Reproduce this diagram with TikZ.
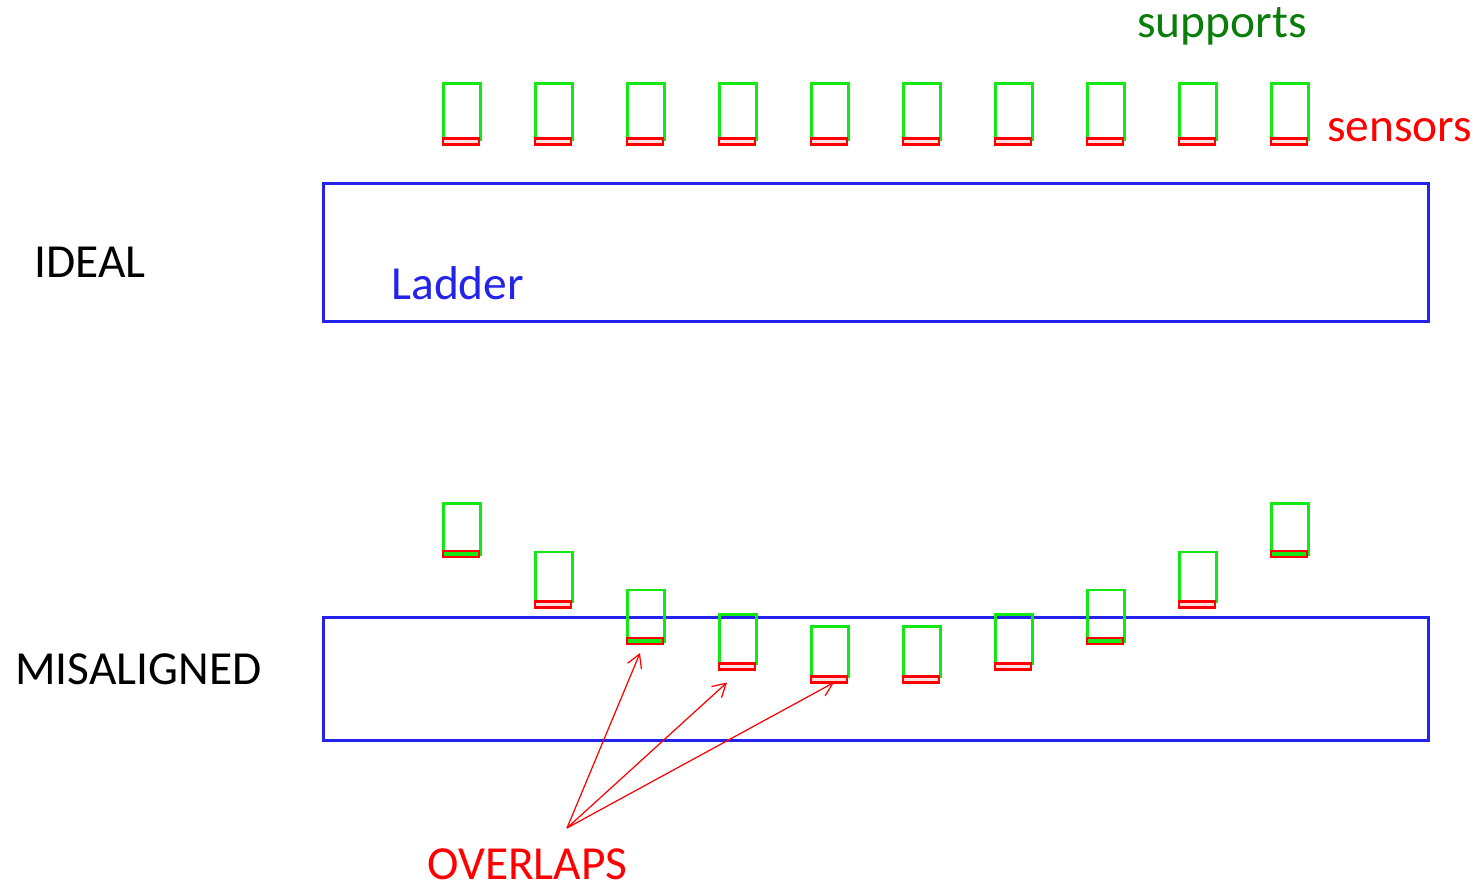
\documentclass[tikz,border=0pt]{standalone}
\usepackage{fontspec}
\setmainfont{Carlito}
\usetikzlibrary{arrows.meta}
\definecolor{suppgreen}{RGB}{20,232,20}
\definecolor{textgreen}{RGB}{10,125,10}
\definecolor{ladderblue}{RGB}{35,35,235}
\begin{document}
\begin{tikzpicture}[x=0.02cm, y=-0.02cm,
    support/.style = {draw=suppgreen, line width=1.5pt, anchor=north, inner sep=0, outer sep=0, minimum width=0.74cm},
    sensor/.style  = {draw=red, line width=1.4pt, fill=red!12, anchor=north, inner sep=0, outer sep=0, minimum width=0.72cm, minimum height=0.12cm},
    ladder/.style  = {draw=ladderblue, line width=1.7pt, inner sep=0, outer sep=0, minimum width=22.12cm},
    label/.style   = {anchor=base west, inner sep=0, font=\fontsize{27}{32}\selectfont}]
    \useasboundingbox (0,0) rectangle (1477,888);

    % ideal ladder
    \node[ladder, minimum height=2.78cm] (L1) at (876,252.5) {};
    \node[support, minimum height=1.13cm] (s1)  at (462,83.5)  {};
    \node[support, minimum height=1.13cm] (s2)  at (554,83.5)  {};
    \node[support, minimum height=1.13cm] (s3)  at (646,83.5)  {};
    \node[support, minimum height=1.13cm] (s4)  at (738,83.5)  {};
    \node[support, minimum height=1.13cm] (s5)  at (830,83.5)  {};
    \node[support, minimum height=1.13cm] (s6)  at (922,83.5)  {};
    \node[support, minimum height=1.13cm] (s7)  at (1014,83.5) {};
    \node[support, minimum height=1.13cm] (s8)  at (1106,83.5) {};
    \node[support, minimum height=1.13cm] (s9)  at (1198,83.5) {};
    \node[support, minimum height=1.13cm] (s10) at (1290,83.5) {};
    \node[sensor] (d1)  at (461,138.5)  {};
    \node[sensor] (d2)  at (553,138.5)  {};
    \node[sensor] (d3)  at (645,138.5)  {};
    \node[sensor] (d4)  at (737,138.5)  {};
    \node[sensor] (d5)  at (829,138.5)  {};
    \node[sensor] (d6)  at (921,138.5)  {};
    \node[sensor] (d7)  at (1013,138.5) {};
    \node[sensor] (d8)  at (1105,138.5) {};
    \node[sensor] (d9)  at (1197,138.5) {};
    \node[sensor] (d10) at (1289,138.5) {};

    % misaligned ladder
    \node[ladder, minimum height=2.48cm] (L2) at (876,679) {};
    \node[support, minimum height=1.03cm] (m1)  at (462,503.5)  {};
    \node[support, minimum height=1.0cm]  (m2)  at (554,552)    {};
    \node[support, minimum height=1.03cm] (m3)  at (646,590)    {};
    \node[support, minimum height=0.98cm] (m4)  at (738,614.5)  {};
    \node[support, minimum height=1.0cm]  (m5)  at (830,626.5)  {};
    \node[support, minimum height=1.0cm]  (m6)  at (922,626.5)  {};
    \node[support, minimum height=0.98cm] (m7)  at (1014,614.5) {};
    \node[support, minimum height=1.03cm] (m8)  at (1106,590)   {};
    \node[support, minimum height=1.0cm]  (m9)  at (1198,552)   {};
    \node[support, minimum height=1.03cm] (m10) at (1290,503.5) {};
    \node[sensor, fill=suppgreen] (e1)  at (461,551)    {};
    \node[sensor]                 (e2)  at (553,601.5)  {};
    \node[sensor, fill=suppgreen] (e3)  at (645,638)    {};
    \node[sensor]                 (e4)  at (737,663.5)  {};
    \node[sensor]                 (e5)  at (829,676.5)  {};
    \node[sensor]                 (e6)  at (921,676.5)  {};
    \node[sensor]                 (e7)  at (1013,663.5) {};
    \node[sensor, fill=suppgreen] (e8)  at (1105,638)   {};
    \node[sensor]                 (e9)  at (1197,601.5) {};
    \node[sensor, fill=suppgreen] (e10) at (1289,551)   {};

    % labels
    \node[label]                     (ideal)    at (34,278)   {IDEAL};
    \node[label]                     (misal)    at (15,684)   {MISALIGNED};
    \node[label, text=ladderblue]    (ladtext)  at (391,300)  {Ladder};
    \node[label, text=textgreen]     (supptext) at (1137,38)  {supports};
    \node[label, text=red]           (senstext) at (1327,142) {sensors};
    \node[label, text=red]           (overlaps) at (427,879)  {OVERLAPS};

    \coordinate (ov) at (567,828);
    \draw[-{Straight Barb[length=0.26cm, width=0.3cm]}, red, line width=0.7pt] (ov) -- ([shift={(-5,9)}]e3.south);
    \draw[-{Straight Barb[length=0.26cm, width=0.3cm]}, red, line width=0.7pt] (ov) -- ([shift={(-10,13)}]e4.south);
    \draw[-{Straight Barb[length=0.26cm, width=0.3cm]}, red, line width=0.7pt] (ov) -- ([shift={(5,0)}]e5.south);
  \end{tikzpicture}
\end{document}
